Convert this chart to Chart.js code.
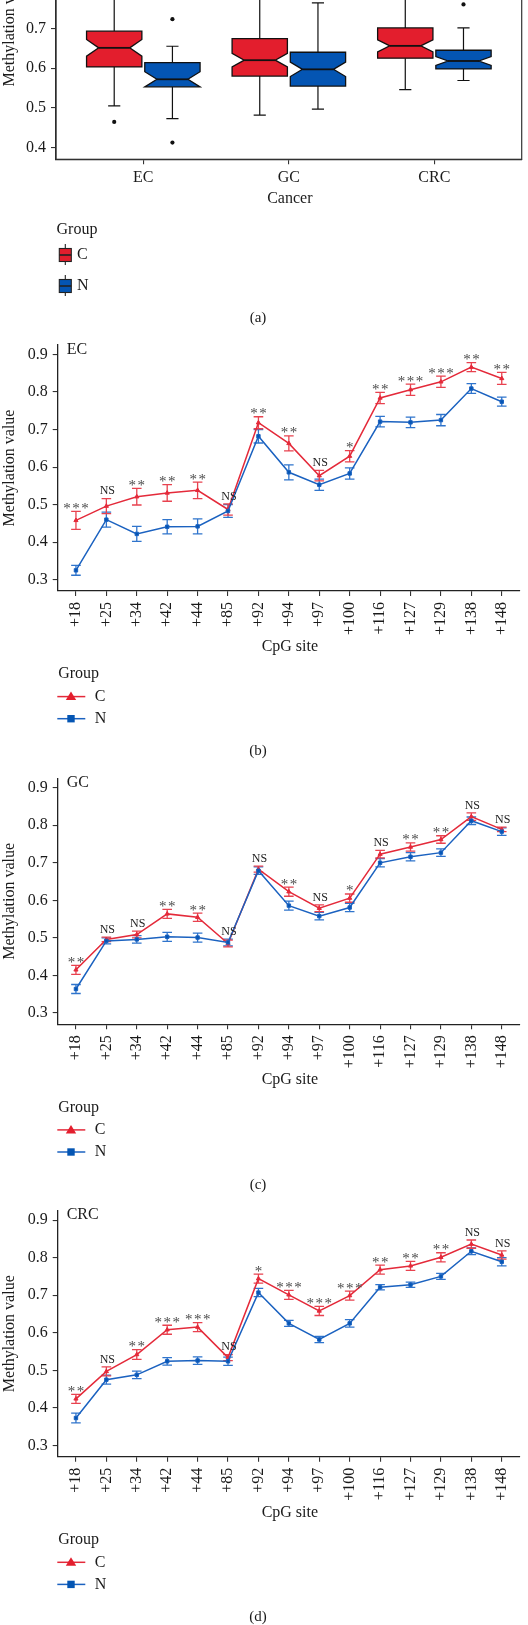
<!DOCTYPE html>
<html>
<head>
<meta charset="utf-8">
<script src="https://cdn.jsdelivr.net/npm/chart.js@4/dist/chart.umd.min.js"></script>
<style>
  body { margin: 0; background: #fff; width: 528px; height: 1625px; overflow: hidden; position: relative; }
  canvas { position: absolute; left: 0; }
</style>
</head>
<body>
<canvas id="boxChart" width="528" height="450" style="top:-120px"></canvas>
<canvas id="ecChart" width="528" height="440" style="top:320px"></canvas>
<canvas id="gcChart" width="528" height="445" style="top:750px"></canvas>
<canvas id="crcChart" width="528" height="445" style="top:1180px"></canvas>
<script>
const FONT = '"Liberation Serif", "DejaVu Serif", serif';
const RED = '#e31e2d', BLUE = '#0455b3';
const RED_LINE = '#e42a3a', BLUE_LINE = '#1b62c0';
const RED_ERR = '#e8424f', BLUE_ERR = '#2f74cc';

// panel (a): box plot stats per cancer type
const cancers = ['EC', 'GC', 'CRC'];
const boxYTicks = [0.4, 0.5, 0.6, 0.7, 0.8, 0.9, 1.0];
const cLow = [0.505, 0.482, 0.546];
const cQ1 = [0.603, 0.580, 0.625];
const cMed = [0.651, 0.620, 0.656];
const cQ3 = [0.693, 0.674, 0.701];
const cHigh = [0.800, 0.773, 0.790];
const cNotch = [0.021, 0.017, 0.015];
const cOutliers = [[0.465], [], []];
const nLow = [0.473, 0.497, 0.569];
const nQ1 = [0.553, 0.555, 0.598];
const nMed = [0.572, 0.597, 0.618];
const nQ3 = [0.614, 0.640, 0.645];
const nHigh = [0.655, 0.764, 0.701];
const nNotch = [0.019, 0.018, 0.011];
const nOutliers = [[0.723, 0.413], [], [0.760]];

// panels (b)-(d): mean methylation per CpG site
const sites = ['+18', '+25', '+34', '+42', '+44', '+85', '+92', '+94', '+97', '+100', '+116', '+127', '+129', '+138', '+148'];
const lineYTicks = [0.3, 0.4, 0.5, 0.6, 0.7, 0.8, 0.9];

const ecC = [0.458, 0.496, 0.521, 0.531, 0.538, 0.487, 0.718, 0.663, 0.577, 0.629, 0.784, 0.806, 0.827, 0.866, 0.836];
const ecCErr = [0.024, 0.020, 0.022, 0.022, 0.022, 0.015, 0.016, 0.020, 0.014, 0.015, 0.015, 0.015, 0.015, 0.012, 0.016];
const ecN = [0.325, 0.460, 0.422, 0.441, 0.442, 0.483, 0.682, 0.586, 0.553, 0.583, 0.721, 0.719, 0.725, 0.809, 0.774];
const ecNErr = [0.013, 0.020, 0.020, 0.019, 0.020, 0.017, 0.018, 0.020, 0.015, 0.015, 0.014, 0.014, 0.015, 0.013, 0.012];
const ecSig = ['***', 'NS', '**', '**', '**', 'NS', '**', '**', 'NS', '*', '**', '***', '***', '**', '**'];

const gcC = [0.415, 0.496, 0.509, 0.564, 0.555, 0.485, 0.683, 0.623, 0.579, 0.606, 0.723, 0.742, 0.762, 0.823, 0.789];
const gcCErr = [0.012, 0.006, 0.009, 0.012, 0.011, 0.009, 0.008, 0.012, 0.009, 0.011, 0.010, 0.011, 0.010, 0.010, 0.006];
const gcN = [0.364, 0.492, 0.496, 0.503, 0.501, 0.488, 0.679, 0.586, 0.558, 0.581, 0.700, 0.716, 0.727, 0.812, 0.783];
const gcNErr = [0.012, 0.008, 0.010, 0.012, 0.012, 0.009, 0.010, 0.012, 0.010, 0.011, 0.011, 0.011, 0.010, 0.010, 0.010];
const gcSig = ['**', 'NS', 'NS', '**', '**', 'NS', 'NS', '**', 'NS', '*', 'NS', '**', '**', 'NS', 'NS'];

const crcC = [0.424, 0.497, 0.542, 0.608, 0.615, 0.534, 0.744, 0.701, 0.658, 0.699, 0.768, 0.778, 0.801, 0.836, 0.807];
const crcCErr = [0.012, 0.012, 0.013, 0.012, 0.012, 0.008, 0.012, 0.012, 0.012, 0.012, 0.012, 0.012, 0.012, 0.011, 0.011];
const crcN = [0.373, 0.475, 0.488, 0.524, 0.526, 0.524, 0.707, 0.625, 0.582, 0.625, 0.721, 0.728, 0.750, 0.817, 0.789];
const crcNErr = [0.013, 0.012, 0.010, 0.010, 0.010, 0.011, 0.011, 0.008, 0.008, 0.010, 0.007, 0.007, 0.008, 0.009, 0.011];
const crcSig = ['**', 'NS', '**', '***', '***', 'NS', '*', '***', '***', '***', '**', '**', '**', 'NS', 'NS'];

Chart.defaults.font.family = FONT;
Chart.defaults.color = '#1a1a1a';

// notched boxes + whiskers, drawn through the chart scales
const boxPlugin = {
  id: 'notchBoxes',
  beforeDatasetsDraw(chart) {
    const ctx = chart.ctx, xs = chart.scales.x, ys = chart.scales.y;
    const groups = [
      { off: -0.2, fill: RED, low: cLow, q1: cQ1, med: cMed, q3: cQ3, high: cHigh, notch: cNotch },
      { off: 0.2, fill: BLUE, low: nLow, q1: nQ1, med: nMed, q3: nQ3, high: nHigh, notch: nNotch }
    ];
    ctx.save();
    cancers.forEach((c, i) => {
      groups.forEach(g => {
        const cx = xs.getPixelForValue(i + 1 + g.off);
        const L = xs.getPixelForValue(i + 1 + g.off - 0.19), R = xs.getPixelForValue(i + 1 + g.off + 0.19);
        const ind = (R - L) * 0.22;
        const cap = (R - L) * 0.11;
        const yLow = ys.getPixelForValue(g.low[i]), yHigh = ys.getPixelForValue(g.high[i]);
        const y1 = ys.getPixelForValue(g.q1[i]), y3 = ys.getPixelForValue(g.q3[i]);
        const ym = ys.getPixelForValue(g.med[i]);
        const nu = ys.getPixelForValue(g.med[i] + g.notch[i]), nd = ys.getPixelForValue(g.med[i] - g.notch[i]);
        ctx.strokeStyle = '#111';
        ctx.lineWidth = 1.2;
        ctx.beginPath();
        ctx.moveTo(cx, y3); ctx.lineTo(cx, yHigh);
        ctx.moveTo(cx - cap, yHigh); ctx.lineTo(cx + cap, yHigh);
        ctx.moveTo(cx, y1); ctx.lineTo(cx, yLow);
        ctx.moveTo(cx - cap, yLow); ctx.lineTo(cx + cap, yLow);
        ctx.stroke();
        ctx.beginPath();
        ctx.moveTo(L, y3); ctx.lineTo(R, y3); ctx.lineTo(R, nu); ctx.lineTo(R - ind, ym);
        ctx.lineTo(R, nd); ctx.lineTo(R, y1); ctx.lineTo(L, y1); ctx.lineTo(L, nd);
        ctx.lineTo(L + ind, ym); ctx.lineTo(L, nu); ctx.closePath();
        ctx.fillStyle = g.fill;
        ctx.fill();
        ctx.lineWidth = 1.3;
        ctx.stroke();
        ctx.beginPath();
        ctx.lineWidth = 1.8;
        ctx.moveTo(L + ind, ym); ctx.lineTo(R - ind, ym);
        ctx.stroke();
      });
    });
    ctx.restore();
  }
};

const framePlugin = {
  id: 'frame',
  afterDraw(chart) {
    const a = chart.chartArea, ctx = chart.ctx;
    ctx.save();
    ctx.strokeStyle = '#333';
    ctx.lineWidth = 1.2;
    ctx.strokeRect(a.left, a.top, a.right - a.left, a.bottom - a.top);
    ctx.restore();
  }
};

// mean +/- error bars for each line dataset
const errorBarPlugin = {
  id: 'errorBars',
  beforeDatasetsDraw(chart) {
    const ctx = chart.ctx, xs = chart.scales.x, ys = chart.scales.y;
    chart.data.datasets.slice().reverse().forEach(ds => {
      ctx.save();
      ctx.strokeStyle = ds.errColor;
      ctx.lineWidth = 1.3;
      ds.data.forEach((p, i) => {
        const x = xs.getPixelForValue(p.x);
        const y1 = ys.getPixelForValue(p.y - ds.errors[i]);
        const y2 = ys.getPixelForValue(p.y + ds.errors[i]);
        ctx.beginPath();
        ctx.moveTo(x, y1); ctx.lineTo(x, y2);
        ctx.moveTo(x - 4.8, y1); ctx.lineTo(x + 4.8, y1);
        ctx.moveTo(x - 4.8, y2); ctx.lineTo(x + 4.8, y2);
        ctx.stroke();
      });
      ctx.restore();
    });
  }
};

// significance marks above each site
const sigPlugin = {
  id: 'sigLabels',
  afterDatasetsDraw(chart, args, opts) {
    const ctx = chart.ctx, xs = chart.scales.x, ys = chart.scales.y;
    const [dc, dn] = chart.data.datasets;
    opts.labels.forEach((lab, i) => {
      const top = Math.max(dc.data[i].y + dc.errors[i], dn.data[i].y + dn.errors[i]);
      const px = xs.getPixelForValue(i + 1), py = ys.getPixelForValue(top);
      ctx.save();
      ctx.textAlign = 'center';
      ctx.textBaseline = 'alphabetic';
      if (lab === 'NS') {
        ctx.font = '12px ' + FONT;
        ctx.fillStyle = '#222';
        ctx.fillText(lab, px + 1, py - 4.2);
      } else {
        ctx.font = '15px ' + FONT;
        ctx.fillStyle = '#4a4a4a';
        ctx.letterSpacing = '1.5px';
        ctx.fillText(lab, px + 0.8, py + 1.5);
      }
      ctx.restore();
    });
  }
};

// axis titles, panel tag, legend and caption
const panelTextPlugin = {
  id: 'panelText',
  afterDraw(chart, args, o) {
    const ctx = chart.ctx, a = chart.chartArea;
    ctx.save();
    ctx.fillStyle = '#1a1a1a';
    ctx.font = '16px ' + FONT;
    ctx.save();
    ctx.translate(9.5, (a.top + a.bottom) / 2);
    ctx.rotate(-Math.PI / 2);
    ctx.textAlign = 'center';
    ctx.textBaseline = 'middle';
    ctx.fillText('Methylation value', 0, 0);
    ctx.restore();

    ctx.textAlign = 'center';
    ctx.textBaseline = 'middle';
    ctx.fillText(o.xTitle, (a.left + a.right) / 2 + 1, a.bottom + o.gaps[0]);

    ctx.textAlign = 'left';
    if (o.tag) ctx.fillText(o.tag, a.left + 9, a.top + 4.3);
    ctx.fillText('Group', a.left + 0.5, a.bottom + o.gaps[1]);

    const keys = [['C', RED, RED_LINE, 'triangle'], ['N', BLUE, BLUE_LINE, 'rect']];
    keys.forEach((k, j) => {
      const y = a.bottom + o.gaps[2 + j];
      if (o.boxKeys) {
        const x0 = a.left + 3.3;
        ctx.strokeStyle = '#222';
        ctx.lineWidth = 1.1;
        ctx.beginPath();
        ctx.moveTo(x0 + 6, y - 11); ctx.lineTo(x0 + 6, y + 10);
        ctx.stroke();
        ctx.fillStyle = k[1];
        ctx.fillRect(x0, y - 6.5, 12, 13);
        ctx.strokeRect(x0, y - 6.5, 12, 13);
        ctx.lineWidth = 1.6;
        ctx.beginPath();
        ctx.moveTo(x0, y); ctx.lineTo(x0 + 12, y);
        ctx.stroke();
        ctx.fillStyle = '#1a1a1a';
        ctx.fillText(k[0], a.left + 21, y);
      } else {
        const x0 = a.left - 0.4, cx = a.left + 13.3;
        ctx.strokeStyle = k[2];
        ctx.lineWidth = 1.5;
        ctx.beginPath();
        ctx.moveTo(x0, y); ctx.lineTo(x0 + 28, y);
        ctx.stroke();
        ctx.fillStyle = k[1];
        ctx.beginPath();
        if (k[3] === 'triangle') {
          ctx.moveTo(cx, y - 5); ctx.lineTo(cx + 5.2, y + 3.5); ctx.lineTo(cx - 5.2, y + 3.5);
        } else {
          ctx.rect(cx - 3.7, y - 3.7, 7.4, 7.4);
        }
        ctx.fill();
        ctx.fillStyle = '#1a1a1a';
        ctx.fillText(k[0], a.left + 37, y);
      }
    });

    ctx.font = '15px ' + FONT;
    ctx.textAlign = 'center';
    ctx.fillText(o.caption, 258, a.bottom + o.gaps[4]);
    ctx.restore();
  }
};

function axisStyle() {
  return {
    grid: { display: true, drawOnChartArea: false, drawTicks: true, tickLength: 5, color: '#333', lineWidth: 1.1 },
    border: { display: true, color: '#222', width: 1.3 }
  };
}

// (a) box plot panel
const outlierPoints = [];
cancers.forEach((c, i) => {
  cOutliers[i].forEach(v => outlierPoints.push({ x: i + 1 - 0.2, y: v }));
  nOutliers[i].forEach(v => outlierPoints.push({ x: i + 1 + 0.2, y: v }));
});

new Chart(document.getElementById('boxChart'), {
  type: 'scatter',
  data: { datasets: [{ data: outlierPoints, pointRadius: 2.1, backgroundColor: '#111', borderWidth: 0 }] },
  options: {
    responsive: false,
    animation: false,
    layout: { padding: { left: 0, right: 528 - 521.7, top: 17, bottom: 0 } },
    scales: {
      x: {
        type: 'linear', min: 0.4, max: 3.6,
        afterBuildTicks: s => { s.ticks = cancers.map((c, i) => ({ value: i + 1 })); },
        afterFit: s => { s.height = 450 - 279.3; },
        ticks: { callback: v => cancers[v - 1], font: { size: 16 }, padding: 4, maxRotation: 0 },
        ...axisStyle()
      },
      y: {
        type: 'linear', min: 0.371, max: 1.03,
        afterBuildTicks: s => { s.ticks = boxYTicks.map(v => ({ value: v })); },
        afterFit: s => { s.width = 56; },
        ticks: { callback: v => v.toFixed(1), font: { size: 16 }, padding: 5 },
        ...axisStyle()
      }
    },
    plugins: {
      legend: { display: false },
      tooltip: { enabled: false },
      panelText: { xTitle: 'Cancer', caption: '(a)', boxKeys: true, gaps: [39.7, 70.7, 95.7, 126.7, 158.7] }
    }
  },
  plugins: [boxPlugin, framePlugin, panelTextPlugin]
});

// (b)-(d) line panels
function linePanel(id, canvasH, plotTop, plotBottom, tag, caption, cVals, cErr, nVals, nErr, sig) {
  new Chart(document.getElementById(id), {
    type: 'line',
    data: {
      datasets: [
        {
          label: 'C', data: cVals.map((v, i) => ({ x: i + 1, y: v })), errors: cErr, errColor: RED_ERR,
          borderColor: RED_LINE, backgroundColor: RED_LINE, borderWidth: 1.5, tension: 0,
          pointStyle: 'triangle', pointRadius: 2.4, pointBorderWidth: 1, order: 2
        },
        {
          label: 'N', data: nVals.map((v, i) => ({ x: i + 1, y: v })), errors: nErr, errColor: BLUE_ERR,
          borderColor: BLUE_LINE, backgroundColor: BLUE, borderWidth: 1.5, tension: 0,
          pointStyle: 'rect', pointRadius: 2.4, pointBorderWidth: 1, order: 1
        }
      ]
    },
    options: {
      responsive: false,
      animation: false,
      layout: { padding: { left: 0, right: 528 - 520, top: plotTop, bottom: 0 } },
      scales: {
        x: {
          type: 'linear', min: 0.4, max: 15.6,
          afterBuildTicks: s => { s.ticks = sites.map((c, i) => ({ value: i + 1 })); },
          afterFit: s => { s.height = canvasH - plotBottom; },
          ticks: { callback: v => sites[v - 1], font: { size: 16 }, padding: 6, minRotation: 90, maxRotation: 90, autoSkip: false },
          ...axisStyle()
        },
        y: {
          type: 'linear', min: 0.27, max: 0.925,
          afterBuildTicks: s => { s.ticks = lineYTicks.map(v => ({ value: v })); },
          afterFit: s => { s.width = 57.7; },
          ticks: { callback: v => v.toFixed(1), font: { size: 16 }, padding: 5 },
          ...axisStyle()
        }
      },
      plugins: {
        legend: { display: false },
        tooltip: { enabled: false },
        sigLabels: { labels: sig },
        panelText: { xTitle: 'CpG site', tag: tag, caption: caption, boxKeys: false, gaps: [55.8, 83, 105.6, 127.7, 160.5] }
      }
    },
    plugins: [errorBarPlugin, sigPlugin, panelTextPlugin]
  });
}

linePanel('ecChart', 440, 25, 271, 'EC', '(b)', ecC, ecCErr, ecN, ecNErr, ecSig);
linePanel('gcChart', 445, 28.3, 274.3, 'GC', '(c)', gcC, gcCErr, gcN, gcNErr, gcSig);
linePanel('crcChart', 445, 30.7, 276.7, 'CRC', '(d)', crcC, crcCErr, crcN, crcNErr, crcSig);
</script>
</body>
</html>
